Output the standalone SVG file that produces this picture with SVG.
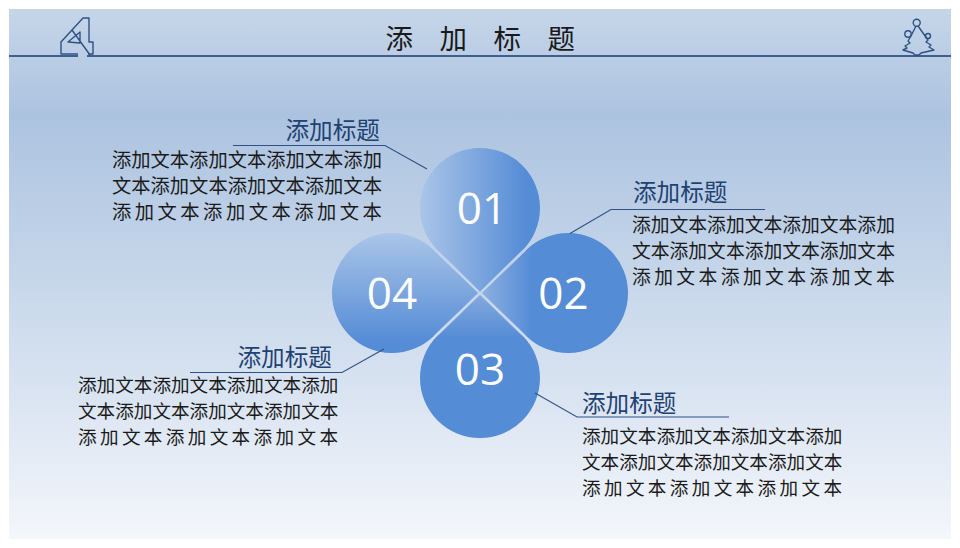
<svg xmlns="http://www.w3.org/2000/svg" width="960" height="548" viewBox="0 0 960 548">
<style>
text{font-family:"Noto Sans CJK SC","Noto Sans",sans-serif}
.b{fill:#1a1a1a}
.b1{font-size:19.3px}
.b2{font-size:18.8px}
.b3{font-size:18.6px}
.w1{font-size:19.3px;letter-spacing:3.5px}
.w2{font-size:18.8px;letter-spacing:3.4px}
.w3{font-size:18.6px;letter-spacing:3.35px}
.h{font-size:23.6px;fill:#1f4272}
.n{font-size:44px;fill:#fff;text-anchor:middle;font-family:"Open Sans","Noto Sans",sans-serif}
.l{fill:none;stroke:#2f5282;stroke-width:1.1}
.i{fill:none;stroke:#2f5282;stroke-width:1.4;stroke-linejoin:round}
.e{fill:none;stroke:#bdd0e8;stroke-width:.8}
</style>
<defs>
<linearGradient id="bg" gradientUnits="userSpaceOnUse" x1="0" y1="9" x2="0" y2="539"><stop offset="0" stop-color="#c6d6e9"/><stop offset=".2" stop-color="#acc3e0"/><stop offset=".6" stop-color="#cedced"/><stop offset=".88" stop-color="#e8eef7"/><stop offset="1" stop-color="#f4f7fb"/></linearGradient>
<linearGradient id="g1" gradientUnits="userSpaceOnUse" x1="420" y1="0" x2="526" y2="0"><stop offset="0" stop-color="#aac5e8"/><stop offset="1" stop-color="#558cd6"/></linearGradient>
<linearGradient id="g2" gradientUnits="userSpaceOnUse" x1="480" y1="0" x2="532" y2="0"><stop offset="0" stop-color="#8fb1e1"/><stop offset="1" stop-color="#558cd6"/></linearGradient>
<linearGradient id="g3" gradientUnits="userSpaceOnUse" x1="0" y1="293" x2="0" y2="338"><stop offset="0" stop-color="#86aade"/><stop offset="1" stop-color="#558cd6"/></linearGradient>
<linearGradient id="g4" gradientUnits="userSpaceOnUse" x1="0" y1="233" x2="0" y2="342"><stop offset="0" stop-color="#aac5e8"/><stop offset="1" stop-color="#558cd6"/></linearGradient>
</defs>
<rect x="9" y="9" width="942" height="530" fill="url(#bg)"/>
<g id="header">
<text x="385.500" y="49" font-size="27.500" fill="#1a1a1a" letter-spacing="26.500">添加标题</text>
<path d="M9 56H78M87 56H951" stroke="#3f5f8f" stroke-width="1.800" fill="none"/>
<path class="i" stroke-width="1.800" d="M78 54H61V42L83 18H89V42H93V54H88M72 30L90 55M68 42L80 32V43Z"/>
<path class="i" d="M916 26L911 36L908 41L910 43L905 46L907 48L903 50L913 53L915 55H919L921 53L934 50L929 47L931 45L926 42L928 40L918 26"/>
<circle class="i" cx="916.700" cy="22.700" r="3.500"/><circle class="i" cx="908" cy="34" r="3.200"/><circle class="i" cx="928" cy="36" r="2.500"/>
</g>
<g id="node-01"><path fill="url(#g1)" d="M480 292L437.600 250.400A60 60 0 1 1 522.400 250.400Z"/><path class="e" d="M437.600 250.400L480 292L522.400 250.400"/><text class="n" x="482" y="224">01</text></g>
<g id="node-02"><path fill="url(#g2)" d="M481.500 293L526.400 249.800A60 60 0 1 1 526.400 336.200Z"/><path class="e" d="M526.400 249.800L481.500 293L526.400 336.200"/><text class="n" x="563.500" y="309">02</text></g>
<g id="node-03"><path fill="url(#g3)" d="M480 294.500L522.400 335.600A60 60 0 1 1 437.600 335.600Z"/><path class="e" d="M437.600 335.600L480 294.500L522.400 335.600"/><text class="n" x="480" y="385">03</text></g>
<g id="node-04"><path fill="url(#g4)" d="M478.500 293L433.600 336.200A60 60 0 1 1 433.600 249.800Z"/><path class="e" d="M433.600 249.800L478.500 293L433.600 336.200"/><text class="n" x="392" y="309">04</text></g>
<g id="connectors">
<path class="l" d="M233 145.500H385L427 169"/>
<path class="l" d="M570 233.500L611 209.500H765"/>
<path class="l" d="M535 393L577 417H729"/>
<path class="l" d="M384 349L342 372.500H190"/>
</g>
<g id="label-01"><text class="h" x="285.500" y="139">添加标题</text>
<text class="b b1" x="112" y="167">添加文本添加文本添加文本添加</text><text class="b b1" x="112" y="193">文本添加文本添加文本添加文本</text><text class="b w1" x="112" y="219">添加文本添加文本添加文本</text></g>
<g id="label-02"><text class="h" x="633" y="201">添加标题</text>
<text class="b b2" x="632" y="232">添加文本添加文本添加文本添加</text><text class="b b2" x="632" y="258">文本添加文本添加文本添加文本</text><text class="b w2" x="632" y="284">添加文本添加文本添加文本</text></g>
<g id="label-03"><text class="h" x="582" y="412">添加标题</text>
<text class="b b3" x="582" y="443">添加文本添加文本添加文本添加</text><text class="b b3" x="582" y="469">文本添加文本添加文本添加文本</text><text class="b w3" x="582" y="495">添加文本添加文本添加文本</text></g>
<g id="label-04"><text class="h" x="237.500" y="366">添加标题</text>
<text class="b b3" x="78" y="392">添加文本添加文本添加文本添加</text><text class="b b3" x="78" y="418">文本添加文本添加文本添加文本</text><text class="b w3" x="78" y="444">添加文本添加文本添加文本</text></g>
</svg>
